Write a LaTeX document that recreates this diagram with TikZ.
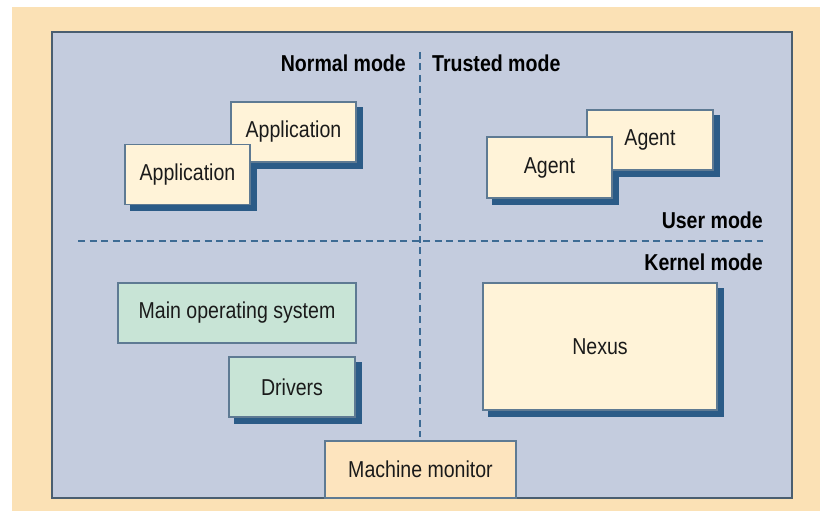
\documentclass[tikz,border=0pt]{standalone}
\usepackage{fontspec}
\setmainfont{Liberation Sans}[FakeStretch=0.85]
\usepackage{tikz}

\definecolor{creamedge}{HTML}{FBE1B5}
\definecolor{creammid}{HTML}{FFF9EF}
\definecolor{panelblue}{HTML}{C4CCDE}
\definecolor{panelline}{HTML}{4A5E70}
\definecolor{boxcream}{HTML}{FFF3D8}
\definecolor{boxpeach}{HTML}{FDE4BE}
\definecolor{boxgreen}{HTML}{C8E4D6}
\definecolor{boxline}{HTML}{5E7A93}
\definecolor{shadowblue}{HTML}{2B5B87}
\definecolor{dashblue}{HTML}{3D6B94}
\definecolor{inkgray}{HTML}{1A1A1A}

\pgfdeclarelayer{bgpanel}
\pgfdeclarelayer{shade}
\pgfsetlayers{bgpanel,shade,main}

\begin{document}
\begin{tikzpicture}[x=1pt, y=-1pt,
    box/.style={draw=boxline, line width=1.1pt, fill=boxcream, inner sep=0pt,
      text=inkgray, font=\fontsize{23}{26}\selectfont},
    osbox/.style={box, fill=boxgreen},
    modelabel/.style={inner sep=0pt, text=black, font=\fontsize{23}{26}\selectfont\bfseries},
    divider/.style={draw=dashblue, line width=2.2pt, dash pattern=on 7pt off 4.5pt}]
\useasboundingbox (0,0) rectangle (820,521);
\begin{pgfonlayer}{bgpanel}
\shade[left color=creamedge, middle color=creammid, right color=creamedge] (12,8) rectangle (820,510);
\draw[fill=panelblue, draw=panelline, line width=1.5pt] (52,32) rectangle (792,498);
\end{pgfonlayer}

% mode labels and dividers
\node[modelabel, anchor=east] (normal) at (406,63) {Normal mode};
\node[modelabel, anchor=west] (trusted) at (432,63) {Trusted mode};
\node[modelabel, anchor=east] (user) at (763,220) {User mode};
\node[modelabel, anchor=east] (kernel) at (763,262) {Kernel mode};
\draw[divider] (420,52) -- (420,437);
\draw[divider] (78,241) -- (763,241);

% user mode
\node[box, minimum width=125pt, minimum height=60pt] (app2) at (293.5,132) {Application};
\node[box, minimum width=125pt, minimum height=60pt] (app1) at (187.5,174.5) {Application};
\node[box, minimum width=126pt, minimum height=60pt] (agent2) at (650,140) {Agent};
\node[box, minimum width=125pt, minimum height=61pt] (agent1) at (549.5,167.5) {Agent};

% kernel mode
\node[osbox, minimum width=238pt, minimum height=60pt] (mainos) at (237,313) {Main operating system};
\node[osbox, minimum width=126pt, minimum height=60pt] (drivers) at (292,387) {Drivers};
\node[box, minimum width=234pt, minimum height=127pt] (nexus) at (600,346.5) {Nexus};
\node[box, fill=boxpeach, minimum width=191pt, minimum height=57pt] (monitor) at (420.5,469.5) {Machine monitor};

\begin{pgfonlayer}{shade}
\foreach \b in {app1,app2,agent1,agent2,drivers,nexus}
  \fill[shadowblue] ([shift={(6,6)}]\b.north west) rectangle ([shift={(6,6)}]\b.south east);
\end{pgfonlayer}
\end{tikzpicture}
\end{document}
